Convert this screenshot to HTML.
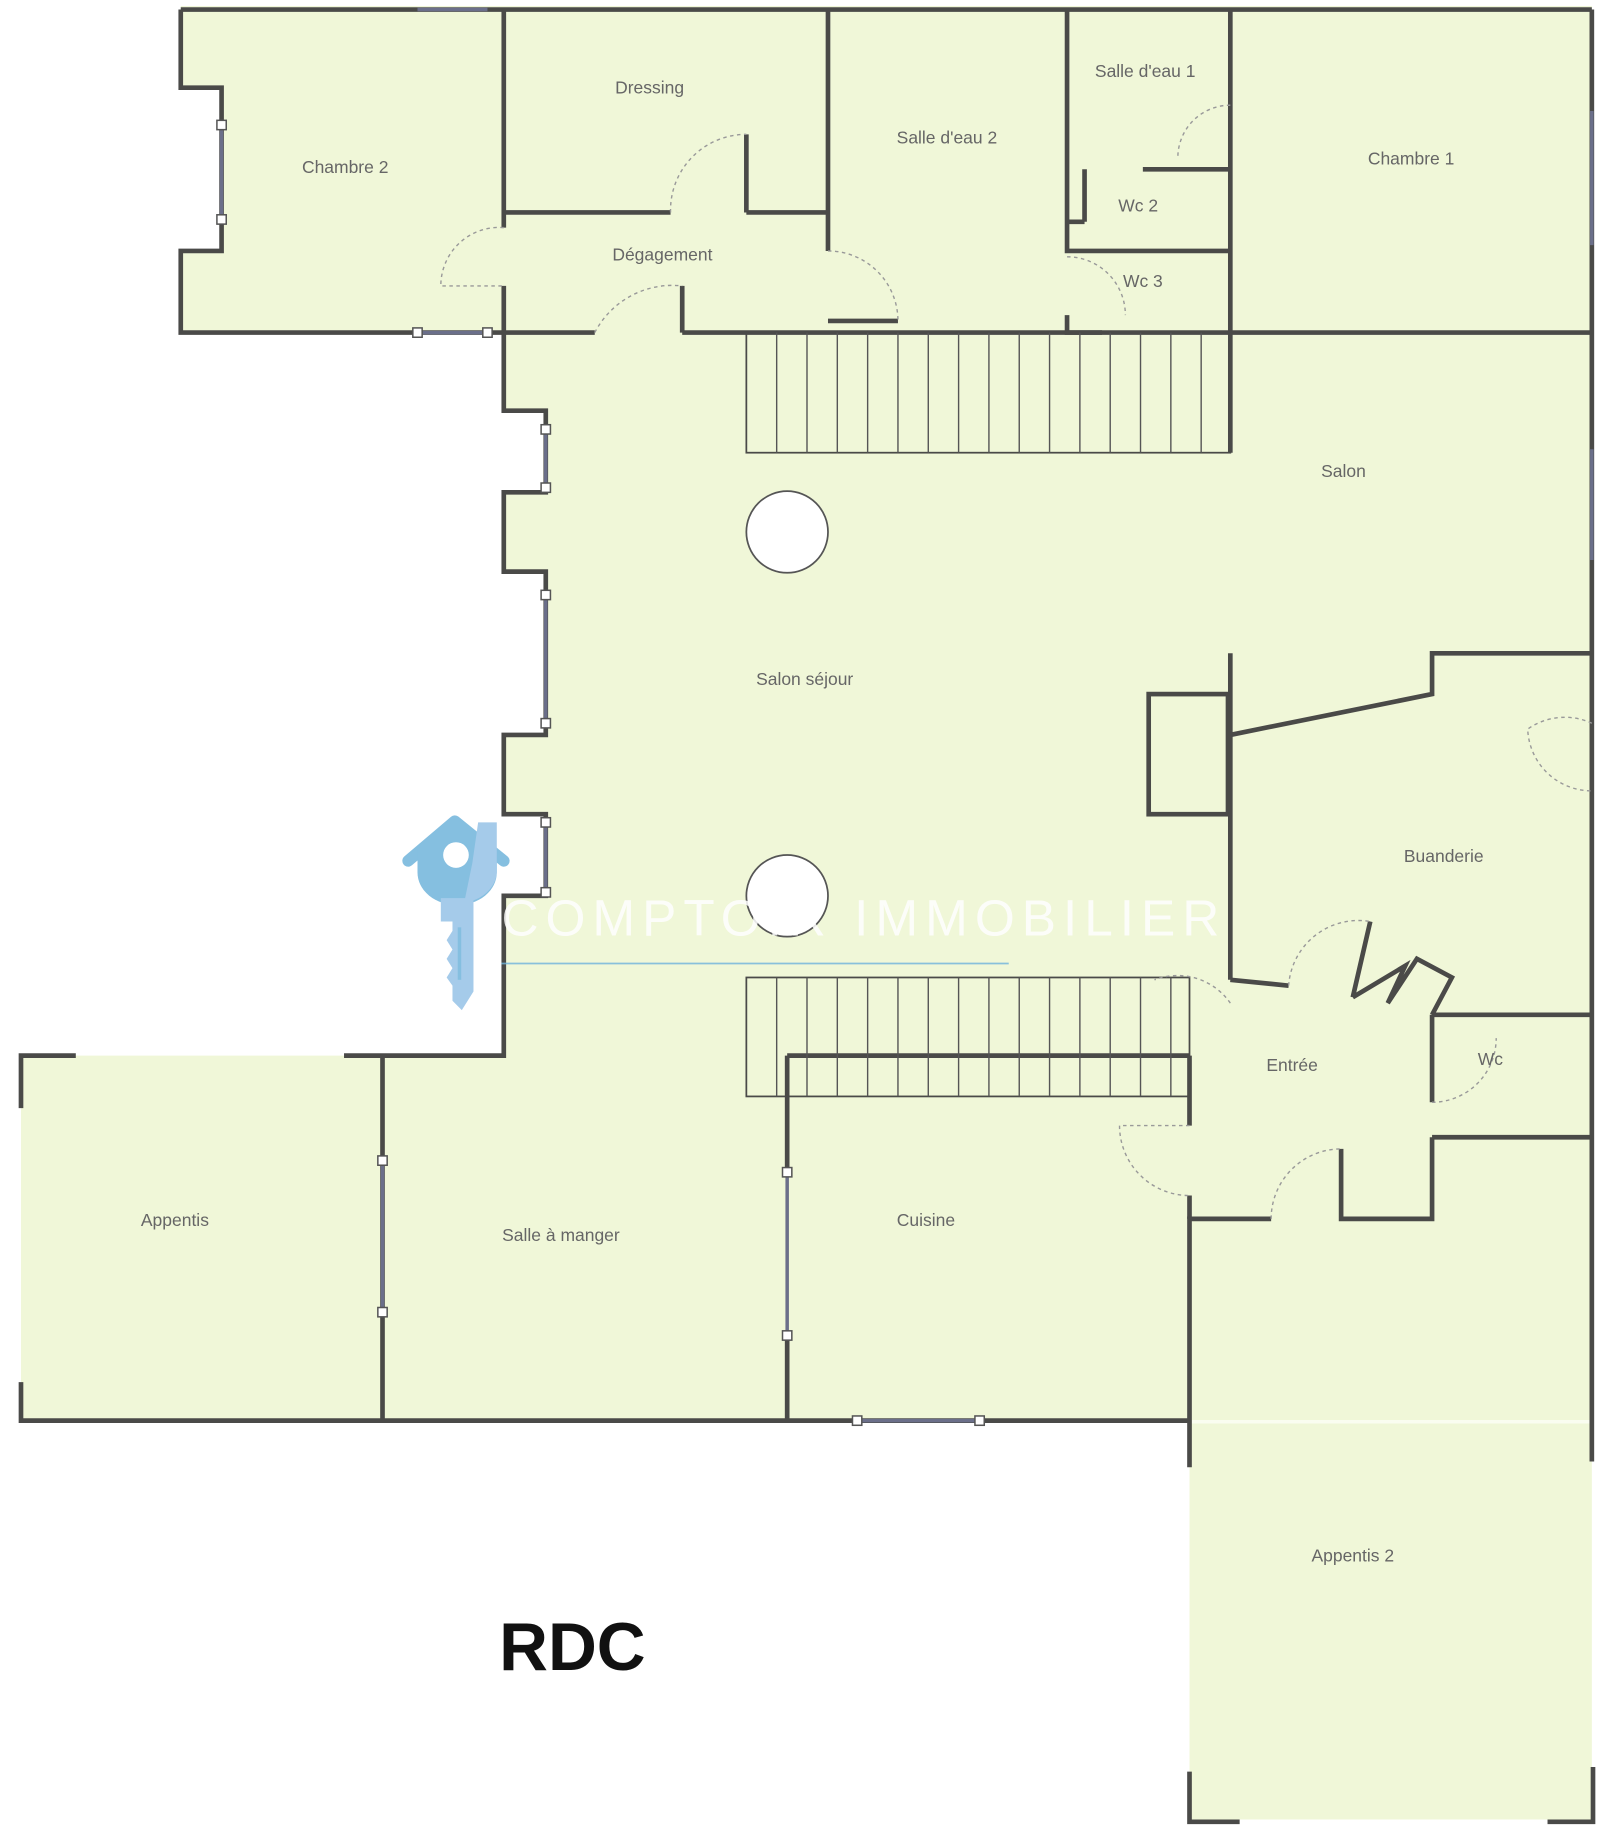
<!DOCTYPE html>
<html><head><meta charset="utf-8"><style>
html,body{margin:0;padding:0;background:#fff;}
svg{display:block;}
text{font-family:"Liberation Sans",sans-serif;}
</style></head><body>
<svg width="1600" height="1829" viewBox="0 0 1372 1568" xmlns="http://www.w3.org/2000/svg">
<rect width="1372" height="1568" fill="#fff"/>
<polygon fill="#f0f7d8" points="155,5 1365,5 1365,1560 1020,1560 1020,1218 18,1218 18,905 432,905 432,768 468,768 468,698 432,698 432,630 468,630 468,490 432,490 432,422 468,422 468,352 432,352 432,285 155,285 155,215 190,215 190,75 155,75"/>
<line x1="1022" y1="1219" x2="1365" y2="1219" stroke="#fafdf0" stroke-width="3"/>
<g fill="none" stroke="#4a4a48" stroke-width="4">
<path d="M155,8 H1365"/>
<path d="M155,8 V75 H190 V215 H155 V285 H432"/>
<path d="M432,8 V195"/>
<path d="M432,245 V352 H468 V422 H432 V490 H468 V630 H432 V698 H468 V768 H432 V905 H295"/>
<path d="M18,950 V905 H65"/>
<path d="M18,1185 V1218 H1020"/>
<path d="M328,905 V1218"/>
<path d="M432,182 H575 M640,182 H710 M640,115 V182"/>
<path d="M710,8 V215 M710,275 H770"/>
<path d="M432,285 H510 M585,285 H1055 M585,245 V285"/>
<path d="M915,8 V215 H1055 M915,145 V190 H930 M930,145 V190 M980,145 H1055 M915,270 V285 H945"/>
<path d="M1055,8 V388 M1055,285 H1365"/>
<path d="M1365,8 V1253"/>
<path d="M1055,560 V840 M1055,630 L1228,595 V560 H1365"/>
<path d="M1055,840 L1105,845 M1160,855 L1175,790 M1160,855 L1205,828 L1190,860 L1215,822 L1245,838 L1228,870"/>
<path d="M1228,870 H1365 M1228,870 V945 M1228,975 H1365 M1228,975 V1045 H1150 V985 M1090,1045 H1020 V1258"/>
<path d="M1020,1519 V1562 H1063 M1327,1562 H1366 V1515"/>
<path d="M1020,905 V965 M1020,1025 V1045"/>
<path d="M675,905 H1020 M675,905 V1005 M675,1145 V1218"/>
<rect x="985" y="595" width="68" height="103"/>
</g>
<g stroke="#4a4a48" stroke-width="1.5" fill="none">
<rect x="640" y="285" width="415" height="103"/>
<rect x="640" y="838" width="380" height="102"/>
</g>
<g stroke="#555" stroke-width="1.2">
<path d="M666,285V388M692,285V388M718,285V388M744,285V388M770,285V388M796,285V388M822,285V388M848,285V388M874,285V388M900,285V388M926,285V388M952,285V388M978,285V388M1004,285V388M1030,285V388"/>
<path d="M666,838V940M692,838V940M718,838V940M744,838V940M770,838V940M796,838V940M822,838V940M848,838V940M874,838V940M900,838V940M926,838V940M952,838V940M978,838V940M1004,838V940"/>
</g>
<g stroke="#999" stroke-width="1.2" fill="none" stroke-dasharray="3,3">
<path d="M432,195 A50,50 0 0 0 378,245 H432"/>
<path d="M575,182 A65,65 0 0 1 640,115"/>
<path d="M510,285 A75,75 0 0 1 585,245"/>
<path d="M710,215 A60,60 0 0 1 770,275"/>
<path d="M1055,90 A45,45 0 0 0 1010,135"/>
<path d="M915,220 A50,50 0 0 1 965,270"/>
<path d="M1365,620 A55,55 0 0 0 1310,625 A55,55 0 0 0 1365,678"/>
<path d="M1105,845 A60,60 0 0 1 1175,790"/>
<path d="M1228,945 A55,55 0 0 0 1283,890"/>
<path d="M1020,965 H960 A60,60 0 0 0 1020,1025"/>
<path d="M1090,1045 A60,60 0 0 1 1150,985"/>
<path d="M1055,860 A55,55 0 0 0 990,840"/>
</g>
<g stroke="#6b6f8a" stroke-width="3" fill="#fff">
<path d="M190,108 V188 M358,8 H418 M358,285 H418 M468,368 V418 M468,510 V620 M468,705 V765 M328,995 V1125 M675,1005 V1145 M735,1218 H840 M1365,95 V210 M1365,385 V480"/>
</g>
<g fill="#fff" stroke="#555" stroke-width="1.3">
<rect x="186" y="103" width="8" height="8"/><rect x="186" y="184" width="8" height="8"/>
<rect x="354" y="281" width="8" height="8"/><rect x="414" y="281" width="8" height="8"/>
<rect x="464" y="364" width="8" height="8"/><rect x="464" y="414" width="8" height="8"/>
<rect x="464" y="506" width="8" height="8"/><rect x="464" y="616" width="8" height="8"/>
<rect x="464" y="701" width="8" height="8"/><rect x="464" y="761" width="8" height="8"/>
<rect x="324" y="991" width="8" height="8"/><rect x="324" y="1121" width="8" height="8"/>
<rect x="671" y="1001" width="8" height="8"/><rect x="671" y="1141" width="8" height="8"/>
<rect x="731" y="1214" width="8" height="8"/><rect x="836" y="1214" width="8" height="8"/>
</g>
<circle cx="675" cy="456" r="35" fill="#fff" stroke="#555" stroke-width="1.5"/>
<circle cx="675" cy="768" r="35" fill="#fff" stroke="#555" stroke-width="1.5"/>
<g fill="#666" font-size="15" text-anchor="middle">
<text x="296" y="148">Chambre 2</text>
<text x="557" y="80">Dressing</text>
<text x="812" y="123">Salle d'eau 2</text>
<text x="982" y="66">Salle d'eau 1</text>
<text x="1210" y="141">Chambre 1</text>
<text x="568" y="223">Dégagement</text>
<text x="976" y="181">Wc 2</text>
<text x="980" y="246">Wc 3</text>
<text x="1152" y="409">Salon</text>
<text x="690" y="587">Salon séjour</text>
<text x="1238" y="739">Buanderie</text>
<text x="1108" y="918">Entrée</text>
<text x="1278" y="913">Wc</text>
<text x="150" y="1051">Appentis</text>
<text x="481" y="1064">Salle à manger</text>
<text x="794" y="1051">Cuisine</text>
<text x="1160" y="1339">Appentis 2</text>
</g>
<g>
<path d="M350,738 L390,704 L432,738" fill="none" stroke="#85bfe0" stroke-width="10" stroke-linecap="round" stroke-linejoin="round"/>
<path d="M390,702 L358,728 V748 A34,28 0 0 0 426,748 V728 Z" fill="#85bfe0"/>
<path d="M410,705 H426 V748 A34,28 0 0 1 398,774 L405,740 Z" fill="#a5cbea"/>
<path d="M378,770 H406 V850 L396,866 L388,858 V845 L383,838 L388,830 L383,822 L388,814 L383,806 L388,798 V790 H378 Z" fill="#a5cbea"/>
<line x1="394" y1="795" x2="394" y2="840" stroke="#85bfe0" stroke-width="3"/>
<circle cx="391" cy="733" r="11" fill="#fff"/>
<text x="430" y="802" font-size="44" fill="#ffffff" letter-spacing="6" opacity="0.85">COMPTOIR IMMOBILIER</text>
<line x1="430" y1="826" x2="865" y2="826" stroke="#6fb3dc" stroke-width="1.5" opacity="0.8"/>
</g>
<text x="428" y="1432" font-size="58" font-weight="bold" fill="#111">RDC</text>
</svg>
</body></html>
